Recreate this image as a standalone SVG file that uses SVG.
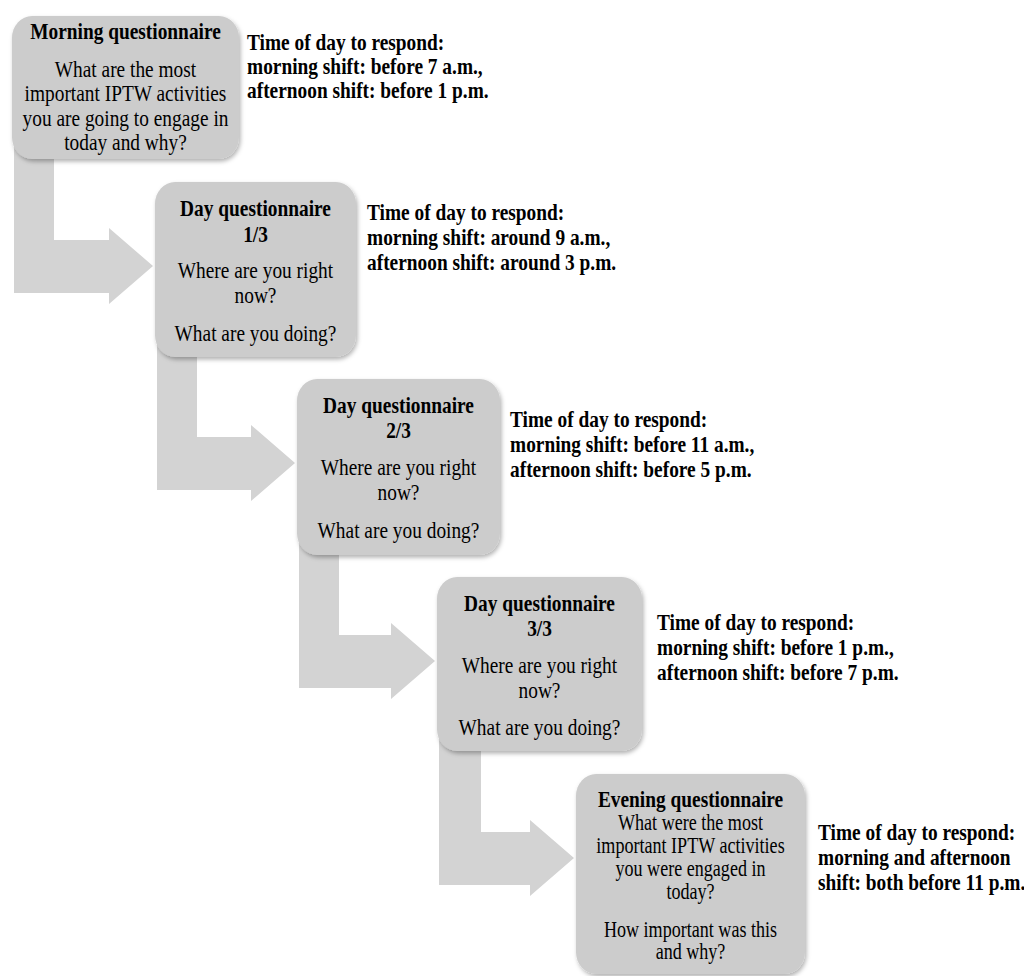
<svg xmlns="http://www.w3.org/2000/svg" width="1024" height="976" viewBox="0 0 1024 976">
<defs>
<filter id="sh" x="-10%" y="-10%" width="125%" height="125%">
<feDropShadow dx="1.5" dy="2.5" stdDeviation="2" flood-color="#000" flood-opacity="0.3"/>
</filter>
<style>
.box{fill:#cccccc;filter:url(#sh)}
.arr{fill:#d3d3d3}
.t{font-family:"Liberation Serif","Times New Roman",serif;font-size:24px;fill:#000}
.b{font-weight:bold}
.c{text-anchor:middle}
.s{font-size:22.4px}
</style>
</defs>
<rect width="1024" height="976" fill="#fff"/>
<g id="connectors">
<path class="arr" d="M14,140 L54,140 L54,240 L109,240 L109,228 L153,266 L109,304 L109,293 L14,293 Z"/>
<path class="arr" d="M157,340 L197,340 L197,437 L251,437 L251,425 L295,463 L251,501 L251,490 L157,490 Z"/>
<path class="arr" d="M299,540 L339,540 L339,635 L391,635 L391,623 L435,661 L391,699 L391,688 L299,688 Z"/>
<path class="arr" d="M439,735 L481,735 L481,832 L530,832 L530,820 L574,858 L530,896 L530,885 L439,885 Z"/>
</g>
<g id="n1">
<rect class="box" x="12" y="16" width="227" height="143" rx="20" ry="22"/>
<g transform="translate(125.5 0) scale(0.807 1)">
<text class="t b c" x="0" y="39">Morning questionnaire</text>
<text class="t c" x="0" y="77">What are the most</text>
<text class="t c" x="0" y="101">important IPTW activities</text>
<text class="t c" x="0" y="126">you are going to engage in</text>
<text class="t c" x="0" y="150">today and why?</text>
</g>
</g>
<g id="t1" transform="translate(247 0) scale(0.807 1)">
<text class="t b" x="0" y="50">Time of day to respond:</text>
<text class="t b" x="0" y="74">morning shift: before 7 a.m.,</text>
<text class="t b" x="0" y="98">afternoon shift: before 1 p.m.</text>
</g>
<g id="n2">
<rect class="box" x="155" y="182" width="201" height="175" rx="20" ry="22"/>
<g transform="translate(255.5 0) scale(0.807 1)">
<text class="t b c" x="0" y="216">Day questionnaire</text>
<text class="t b c" x="0" y="242">1/3</text>
<text class="t c" x="0" y="278">Where are you right</text>
<text class="t c" x="0" y="303">now?</text>
<text class="t c" x="0" y="341">What are you doing?</text>
</g>
</g>
<g id="t2" transform="translate(367 0) scale(0.807 1)">
<text class="t b" x="0" y="220">Time of day to respond:</text>
<text class="t b" x="0" y="245">morning shift: around 9 a.m.,</text>
<text class="t b" x="0" y="270">afternoon shift: around 3 p.m.</text>
</g>
<g id="n3">
<rect class="box" x="297" y="379" width="203" height="176" rx="20" ry="22"/>
<g transform="translate(398.5 0) scale(0.807 1)">
<text class="t b c" x="0" y="413">Day questionnaire</text>
<text class="t b c" x="0" y="438">2/3</text>
<text class="t c" x="0" y="475">Where are you right</text>
<text class="t c" x="0" y="500">now?</text>
<text class="t c" x="0" y="538">What are you doing?</text>
</g>
</g>
<g id="t3" transform="translate(510 0) scale(0.807 1)">
<text class="t b" x="0" y="427">Time of day to respond:</text>
<text class="t b" x="0" y="452">morning shift: before 11 a.m.,</text>
<text class="t b" x="0" y="477">afternoon shift: before 5 p.m.</text>
</g>
<g id="n4">
<rect class="box" x="437" y="577" width="205" height="174" rx="20" ry="22"/>
<g transform="translate(539.5 0) scale(0.807 1)">
<text class="t b c" x="0" y="611">Day questionnaire</text>
<text class="t b c" x="0" y="636">3/3</text>
<text class="t c" x="0" y="673">Where are you right</text>
<text class="t c" x="0" y="698">now?</text>
<text class="t c" x="0" y="735">What are you doing?</text>
</g>
</g>
<g id="t4" transform="translate(657 0) scale(0.807 1)">
<text class="t b" x="0" y="630">Time of day to respond:</text>
<text class="t b" x="0" y="655">morning shift: before 1 p.m.,</text>
<text class="t b" x="0" y="680">afternoon shift: before 7 p.m.</text>
</g>
<g id="n5">
<rect class="box" x="576" y="774" width="229" height="200" rx="20" ry="22"/>
<g transform="translate(690.5 0) scale(0.807 1)">
<text class="t b c" x="0" y="807">Evening questionnaire</text>
<text class="t c s" x="0" y="830">What were the most</text>
<text class="t c s" x="0" y="853">important IPTW activities</text>
<text class="t c s" x="0" y="876">you were engaged in</text>
<text class="t c s" x="0" y="899">today?</text>
<text class="t c s" x="0" y="937">How important was this</text>
<text class="t c s" x="0" y="959">and why?</text>
</g>
</g>
<g id="t5" transform="translate(818 0) scale(0.807 1)">
<text class="t b" x="0" y="840">Time of day to respond:</text>
<text class="t b" x="0" y="865">morning and afternoon</text>
<text class="t b" x="0" y="890">shift: both before 11 p.m.</text>
</g>
</svg>
